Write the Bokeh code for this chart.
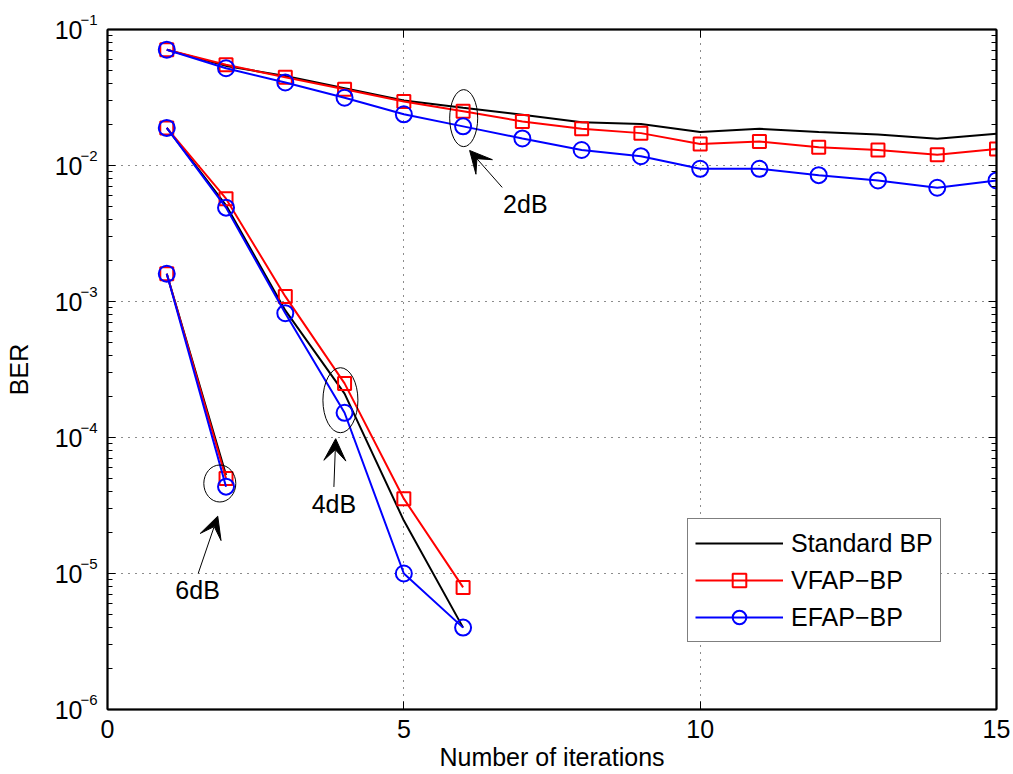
import numpy as np
from bokeh.plotting import figure
from bokeh.models import (ColumnDataSource, LinearAxis, LogAxis, FixedTicker, LogTicker,
                          CustomJSTickFormatter, Arrow, VeeHead, Legend)
from bokeh.core.properties import value
from bokeh.embed import file_html
from bokeh.resources import INLINE

FONT = "Liberation Sans"

# BER vs number of decoding iterations, one curve per decoder at each SNR
iters_2db = [1, 2, 3, 4, 5, 6, 7, 8, 9, 10, 11, 12, 13, 14, 15]
std_2db = [0.071, 0.054, 0.0455, 0.037, 0.0301, 0.0266, 0.0236, 0.0208, 0.0202, 0.0176,
           0.0186, 0.0176, 0.0169, 0.0157, 0.0171]
vfap_2db = [0.071, 0.055, 0.0446, 0.0364, 0.0296, 0.0251, 0.0211, 0.0186, 0.0173, 0.0144,
            0.0150, 0.0136, 0.0130, 0.0120, 0.0132]
efap_2db = [0.071, 0.0519, 0.0408, 0.0315, 0.0238, 0.0194, 0.0158, 0.0130, 0.0117, 0.00946,
            0.00946, 0.00849, 0.00776, 0.00686, 0.00776]

iters_4db = [1, 2, 3, 4, 5, 6]
std_4db = [0.0189, 0.0051, 8.6e-4, 2.1e-4, 2.45e-5, 4.0e-6]
vfap_4db = [0.0189, 0.0057, 1.09e-3, 2.5e-4, 3.55e-5, 7.9e-6]
efap_4db = [0.0189, 0.0049, 8.2e-4, 1.52e-4, 1.0e-5, 4.0e-6]

iters_6db = [1, 2]
std_6db = [1.6e-3, 5.3e-5]
vfap_6db = [1.6e-3, 5.0e-5]
efap_6db = [1.6e-3, 4.35e-5]

legend_labels = ["Standard BP", "VFAP\u2212BP", "EFAP\u2212BP"]

# axis ticks
x_ticks = [0, 5, 10, 15]
y_ticks = [1e-6, 1e-5, 1e-4, 1e-3, 1e-2, 1e-1]
y_tick_base = "10"
y_tick_exponents = ["\u22126", "\u22125", "\u22124", "\u22123", "\u22122", "\u22121"]

# SNR annotations: ellipse centres, arrow tip / tail, label positions
snr_labels = ["2dB", "4dB", "6dB"]
ell_x = [6.01, 3.93, 1.895]
ell_y = [0.0223, 1.88e-4, 4.59e-5]
arrow_tip_x = [6.11, 3.85, 1.86]
arrow_tip_y = [1.29e-2, 9.8e-5, 2.64e-5]
arrow_tail_x = [6.66, 3.82, 1.53]
arrow_tail_y = [6.9e-3, 4.33e-5, 1.0e-5]
label_x = [7.05, 3.82, 1.52]
label_y = [5.23e-3, 3.27e-5, 7.54e-6]


def joined(groups):
    """Concatenate curve segments, separated by NaN so the line breaks."""
    out = []
    for i, g in enumerate(groups):
        if i:
            out.append(np.nan)
        out.extend(g)
    return out


x_all = joined([iters_2db, iters_4db, iters_6db])
std_all = joined([std_2db, std_4db, std_6db])
vfap_all = joined([vfap_2db, vfap_4db, vfap_6db])
efap_all = joined([efap_2db, efap_4db, efap_6db])

p = figure(width=1013, height=774, y_axis_type="log",
           x_range=(0, 15), y_range=(1e-6, 1e-1),
           output_backend="svg", toolbar_location=None,
           min_border_left=107, min_border_right=17,
           min_border_top=29, min_border_bottom=65)
p.background_fill_color = "white"
p.border_fill_color = "white"
p.outline_line_color = "black"
p.outline_line_width = 1.5

xticker = FixedTicker(ticks=x_ticks)
yticker = LogTicker(num_minor_ticks=10)

# bottom axis
xa = p.xaxis[0]
xa.ticker = xticker
xa.axis_label = "Number of iterations"
xa.minor_tick_line_color = None
xa.major_tick_in = 8
xa.major_tick_out = 0
xa.major_label_standoff = 10
xa.axis_label_standoff = 2

# left axis next to the frame carries the ticks and the raised exponents
# (the blank second line lifts the exponent above the tick position)
exp_fmt = CustomJSTickFormatter(args=dict(vals=y_ticks, labels=y_tick_exponents), code="""
let best = 0;
for (let i = 1; i < vals.length; i++) {
  if (Math.abs(Math.log10(vals[i] / tick)) < Math.abs(Math.log10(vals[best] / tick))) best = i;
}
return labels[best] + '\\n ';
""")
ya = p.yaxis[0]
ya.ticker = yticker
ya.formatter = exp_fmt
ya.major_tick_in = 8
ya.major_tick_out = 0
ya.minor_tick_in = 5
ya.minor_tick_out = 0
ya.major_label_standoff = 10
ya.major_label_text_font_size = "15px"

# outer left axis: the "10" mantissa and the axis title
base_axis = LogAxis(ticker=yticker,
                    formatter=CustomJSTickFormatter(args=dict(base=y_tick_base),
                                                    code="return base;"),
                    axis_line_color=None, major_tick_line_color=None,
                    minor_tick_line_color=None, major_label_standoff=-11,
                    major_label_text_font_size="25px",
                    axis_label="BER", axis_label_standoff=19)
p.add_layout(base_axis, "left")

for ax in (xa, ya, base_axis):
    ax.axis_line_width = 2
    ax.major_tick_line_width = 1
    ax.major_label_text_font = FONT
    ax.major_label_text_color = "black"
    ax.axis_label_text_font = FONT
    ax.axis_label_text_font_size = "25px"
    ax.axis_label_text_font_style = "normal"
    ax.axis_label_text_color = "black"
xa.major_label_text_font_size = "25px"

# mirrored axes on top and right (ticks only)
top = LinearAxis(ticker=xticker, major_tick_in=8, major_tick_out=0,
                 minor_tick_line_color=None, axis_line_width=2,
                 major_label_text_font_size="1px", major_label_text_alpha=0,
                 major_label_standoff=0)
right = LogAxis(ticker=yticker, major_tick_in=8, major_tick_out=0,
                minor_tick_in=5, minor_tick_out=0, axis_line_width=2,
                major_label_text_font_size="1px", major_label_text_alpha=0,
                major_label_standoff=0)
p.add_layout(top, "above")
p.add_layout(right, "right")

# dotted grid at major ticks
p.xgrid.ticker = xticker
for g in (p.xgrid[0], p.ygrid[0]):
    g.grid_line_color = "black"
    g.grid_line_dash = "1 6"
    g.grid_line_width = 1
    g.grid_line_alpha = 0.9

src = ColumnDataSource(dict(x=x_all, std=std_all, vfap=vfap_all, efap=efap_all))

r_std = p.line("x", "std", source=src, color="black", line_width=2)
r_vl = p.line("x", "vfap", source=src, color="#ff0000", line_width=2)
r_vm = p.scatter("x", "vfap", source=src, marker="square", size=13,
                 line_color="#ff0000", line_width=2, fill_color=None)
r_el = p.line("x", "efap", source=src, color="#0000ff", line_width=2)
r_em = p.scatter("x", "efap", source=src, marker="circle", size=16,
                 line_color="#0000ff", line_width=2, fill_color=None)

# SNR annotations
ann = ColumnDataSource(dict(ex=ell_x, ey=ell_y, w=[28, 35, 32], h=[57, 65, 37],
                            x0=arrow_tail_x, y0=arrow_tail_y,
                            x1=arrow_tip_x, y1=arrow_tip_y,
                            lx=label_x, ly=label_y, text=snr_labels))
p.ellipse(x="ex", y="ey", width="w", height="h", source=ann,
          width_units="screen", height_units="screen",
          fill_color=None, line_color="black", line_width=1)
p.add_layout(Arrow(source=ann, x_start="x0", y_start="y0", x_end="x1", y_end="y1",
                   line_color="black", line_width=1,
                   end=VeeHead(size=22, fill_color="black", line_color="black",
                               line_width=1)))
p.text(x="lx", y="ly", text="text", source=ann, text_font=value(FONT),
       text_font_size="25px", text_align="center", text_baseline="middle",
       text_color="black")

legend = Legend(items=[(legend_labels[0], [r_std]),
                       (legend_labels[1], [r_vl, r_vm]),
                       (legend_labels[2], [r_el, r_em])],
                location=(580, 67))
legend.label_text_font = FONT
legend.label_text_font_size = "25px"
legend.label_text_color = "black"
legend.glyph_width = 88
legend.glyph_height = 34
legend.label_height = 34
legend.label_standoff = 8
legend.padding = 7
legend.spacing = 3
legend.margin = 0
legend.border_line_color = "black"
legend.border_line_width = 1.5
legend.background_fill_color = "white"
legend.background_fill_alpha = 1
p.add_layout(legend)

open("out.html", "w").write(file_html(p, INLINE))
